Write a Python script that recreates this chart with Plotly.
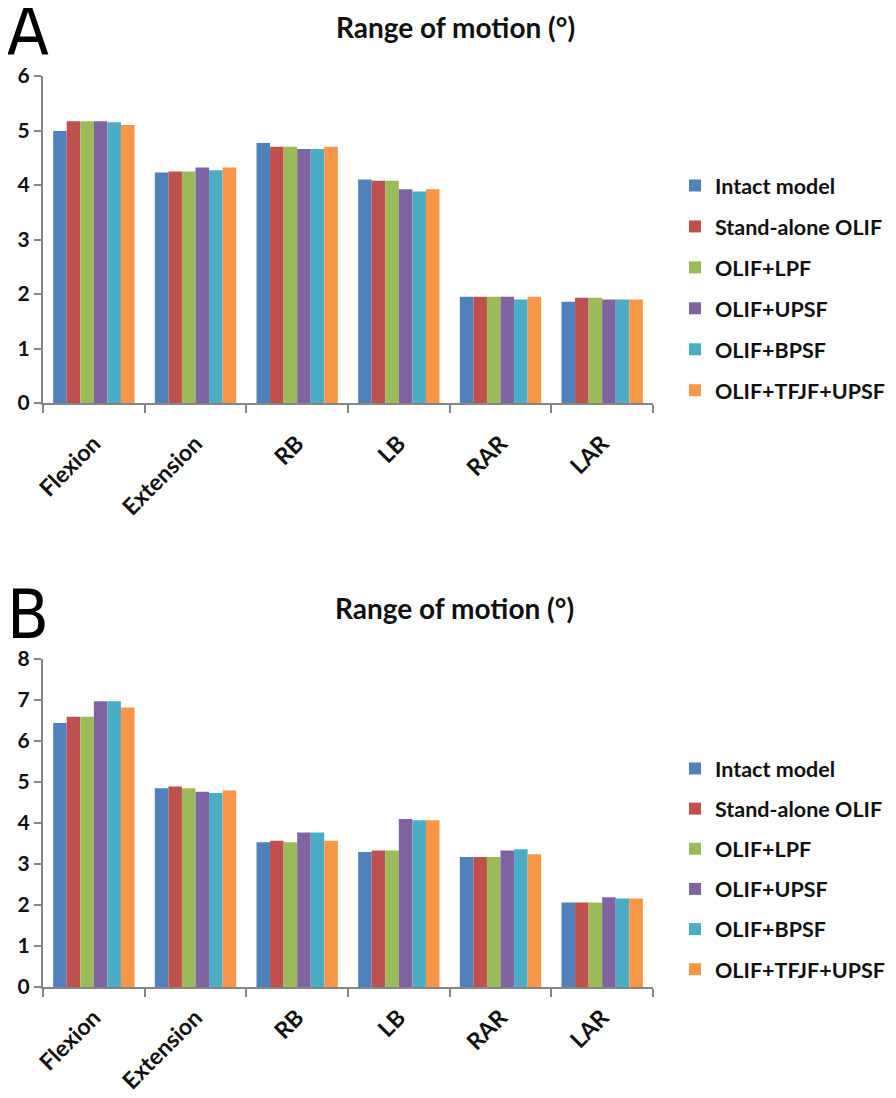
import plotly.graph_objects as go

categories = ["Flexion", "Extension", "RB", "LB", "RAR", "LAR"]
series_names = ["Intact model", "Stand-alone OLIF", "OLIF+LPF", "OLIF+UPSF", "OLIF+BPSF", "OLIF+TFJF+UPSF"]
colors = ["#4F81BD", "#C0504D", "#9BBB59", "#8064A2", "#4BACC6", "#F79646"]

# Panel A values (per series, in category order)
a_intact = [4.99, 4.23, 4.77, 4.10, 1.95, 1.86]
a_standalone = [5.17, 4.25, 4.70, 4.08, 1.95, 1.93]
a_lpf = [5.17, 4.25, 4.70, 4.08, 1.95, 1.93]
a_upsf = [5.17, 4.32, 4.66, 3.92, 1.95, 1.90]
a_bpsf = [5.15, 4.27, 4.66, 3.88, 1.90, 1.90]
a_tfjf = [5.10, 4.32, 4.70, 3.92, 1.95, 1.90]

# Panel B values
b_intact = [6.44, 4.85, 3.53, 3.29, 3.17, 2.06]
b_standalone = [6.59, 4.89, 3.57, 3.33, 3.17, 2.06]
b_lpf = [6.59, 4.85, 3.53, 3.33, 3.17, 2.06]
b_upsf = [6.97, 4.76, 3.77, 4.10, 3.33, 2.19]
b_bpsf = [6.97, 4.73, 3.77, 4.07, 3.36, 2.16]
b_tfjf = [6.82, 4.79, 3.57, 4.07, 3.24, 2.16]

panel_a = [a_intact, a_standalone, a_lpf, a_upsf, a_bpsf, a_tfjf]
panel_b = [b_intact, b_standalone, b_lpf, b_upsf, b_bpsf, b_tfjf]

FONT = "Lato, 'Open Sans', sans-serif"
AXIS_COLOR = "#868686"
TXT = "#111111"

# page body has an 8px margin; figure sized to fit the 896x1098 window
OFF = 8
W, H = 896 - 2 * OFF, 1098 - 2 * OFF


def px(x):
    return (x - OFF) / W


def py(y):
    return 1 - (y - OFF) / H


fig = go.Figure()
for i, name in enumerate(series_names):
    fig.add_trace(go.Bar(x=categories, y=panel_a[i], name=name, marker_color=colors[i],
                         marker_line_width=0, xaxis="x", yaxis="y", legend="legend",
                         legendgroup="a" + str(i)))
for i, name in enumerate(series_names):
    fig.add_trace(go.Bar(x=categories, y=panel_b[i], name=name, marker_color=colors[i],
                         marker_line_width=0, xaxis="x2", yaxis="y2", legend="legend2",
                         legendgroup="b" + str(i)))

xdom = [px(43), px(653)]
common_x = dict(type="category", showline=True, linecolor=AXIS_COLOR, linewidth=2,
                ticks="outside", tickson="boundaries", ticklen=8, tickwidth=2, tickcolor=AXIS_COLOR,
                tickangle=-45, tickfont=dict(family=FONT, size=23, color=TXT, weight="bold"),
                showgrid=False, zeroline=False, automargin=False, domain=xdom)
common_y = dict(showline=True, linecolor=AXIS_COLOR, linewidth=2, ticks="outside", ticklen=7,
                tickwidth=2, tickcolor=AXIS_COLOR,
                tickfont=dict(family=FONT, size=21, color=TXT, weight="bold"),
                ticklabelstandoff=0,
                showgrid=False, zeroline=False, automargin=False, dtick=1)

legend_common = dict(font=dict(family=FONT, size=21.5, color=TXT, weight="bold"),
                     bgcolor="rgba(0,0,0,0)", xanchor="left", yanchor="top", itemclick=False)

fig.update_layout(
    width=W, height=H, margin=dict(l=0, r=0, t=0, b=0, autoexpand=False),
    paper_bgcolor="white", plot_bgcolor="white",
    barmode="group", bargap=0.2, bargroupgap=0,
    xaxis=dict(**common_x, anchor="y", ticklabelstandoff=16),
    yaxis=dict(**common_y, range=[0, 6], domain=[py(403), py(76)], anchor="x"),
    xaxis2=dict(**common_x, anchor="y2", ticklabelstandoff=6),
    yaxis2=dict(**common_y, range=[0, 8], domain=[py(987), py(659)], anchor="x2"),
    legend=dict(**legend_common, x=px(675), y=py(165), tracegroupgap=10),
    legend2=dict(**legend_common, x=px(675), y=py(748), tracegroupgap=9.2),
    showlegend=True,
)

LETTER_FONT = "'Liberation Sans Narrow', 'DejaVu Sans Condensed', sans-serif"
annots = [
    dict(text="A", x=px(28), y=py(31), font=dict(family=LETTER_FONT, size=68, color="black")),
    dict(text="B", x=px(28), y=py(614), font=dict(family=LETTER_FONT, size=68, color="black")),
    dict(text="<b>Range of motion (°)</b>", x=px(456), y=py(27), font=dict(family=FONT, size=28, color=TXT)),
    dict(text="<b>Range of motion (°)</b>", x=px(454), y=py(608), font=dict(family=FONT, size=28, color=TXT)),
]
for a in annots:
    fig.add_annotation(xref="paper", yref="paper", showarrow=False, xanchor="center", yanchor="middle", **a)

fig.write_html("out.html")
